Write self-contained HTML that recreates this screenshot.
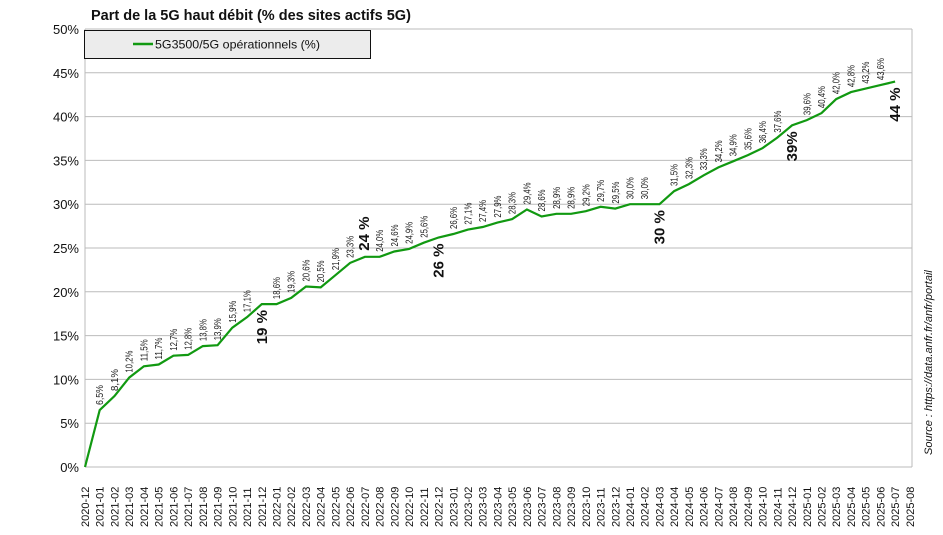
<!DOCTYPE html>
<html><head><meta charset="utf-8"><style>
body{margin:0;background:#fff;width:943px;height:530px;overflow:hidden}
svg{font-family:"Liberation Sans",sans-serif}
</style></head><body>
<svg id="s" width="943" height="530" xmlns="http://www.w3.org/2000/svg">
<text x="91" y="20" font-size="14.5" font-weight="bold" fill="#111">Part de la 5G haut débit (% des sites actifs 5G)</text>
<g id="g"></g>
<rect x="84.5" y="30.5" width="286" height="28" fill="#ececec" stroke="#111" stroke-width="1"/>
<line x1="133" y1="44" x2="153" y2="44" stroke="#119911" stroke-width="2.5"/>
<text x="155" y="48.5" font-size="12" fill="#111" textLength="165" lengthAdjust="spacingAndGlyphs">5G3500/5G opérationnels (%)</text>
<text transform="translate(932,455) rotate(-90)" font-size="11" font-style="italic" fill="#111">Source : https://data.anfr.fr/anfr/portail</text>
</svg>
<script>
var d=[0,6.5,8.1,10.2,11.5,11.7,12.7,12.8,13.8,13.9,15.9,17.1,18.6,18.6,19.3,20.6,20.5,21.9,23.3,24.0,24.0,24.6,24.9,25.6,26.2,26.6,27.1,27.4,27.9,28.3,29.4,28.6,28.9,28.9,29.2,29.7,29.5,30.0,30.0,30.0,31.5,32.3,33.3,34.2,34.9,35.6,36.4,37.6,39.0,39.6,40.4,42.0,42.8,43.2,43.6,44.0];
var big={12:"19 %",19:"24 %",24:"26 %",39:"30 %",48:"39%",55:"44 %"};
function X(i){return 85+i*14.73}function Y(v){return 467-v*8.76}
var h="";
for(var k=0;k<=10;k++){var y=Y(k*5);h+='<line x1="85" x2="912" y1="'+y+'" y2="'+y+'" stroke="#bbb"/>';h+='<text x="79" y="'+(y+5)+'" font-size="13" text-anchor="end" fill="#111">'+(k*5)+'%</text>';}
h+='<line x1="85" x2="85" y1="29" y2="467" stroke="#bbb"/><line x1="912" x2="912" y1="29" y2="467" stroke="#bbb"/>';
for(var i=0;i<=56;i++){var yr=2020+Math.floor((i+11)/12),m=((i+11)%12)+1;var lab=yr+"-"+(m<10?"0":"")+m;
h+='<text transform="translate('+(X(i)+4)+',527) rotate(-90)" font-size="11" fill="#111">'+lab+'</text>';}
var p="";for(var i=0;i<d.length;i++)p+=(i?"L":"M")+X(i).toFixed(1)+","+Y(d[i]).toFixed(1);
h+='<path d="'+p+'" fill="none" stroke="#119911" stroke-width="2.2"/>';
for(var i=1;i<d.length;i++){if(big[i]){
if(i==19){h+='<text transform="translate('+(X(i)+4)+','+(Y(d[i])-6)+') rotate(-90)" font-size="15" font-weight="bold" fill="#111">'+big[i]+'</text>';}
else h+='<text transform="translate('+(X(i)+5)+','+(Y(d[i])+6)+') rotate(-90)" font-size="15" font-weight="bold" text-anchor="end" fill="#111">'+big[i]+'</text>';}
else{h+='<text transform="translate('+(X(i)+3.5)+','+(Y(d[i])-5)+') rotate(-90)" font-size="10" fill="#222" textLength="'+(i==1?20:22)+'" lengthAdjust="spacingAndGlyphs">'+d[i].toFixed(1).replace(".",",")+'%</text>';}}
document.getElementById("g").innerHTML=h;
</script>
</body></html>
